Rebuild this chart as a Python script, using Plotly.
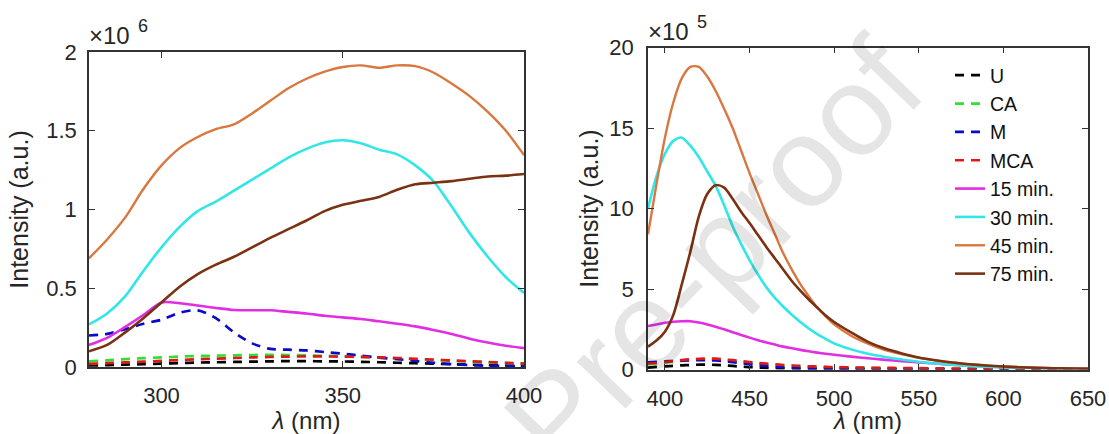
import plotly.graph_objects as go

# ---------------- data (left panel, intensity x1e6) ----------------
wl_left = [280, 285, 290, 295, 300, 305, 310, 315, 320, 325, 330, 335, 340,
           345, 350, 355, 360, 365, 370, 375, 380, 385, 390, 395, 400]
left_U = [0.010, 0.012, 0.015, 0.018, 0.022, 0.025, 0.028, 0.030, 0.032, 0.034, 0.036, 0.037, 0.037,
          0.036, 0.035, 0.033, 0.030, 0.027, 0.024, 0.021, 0.018, 0.015, 0.012, 0.010, 0.008]
left_CA = [0.036, 0.042, 0.050, 0.056, 0.061, 0.066, 0.070, 0.072, 0.074, 0.076, 0.077, 0.076, 0.074,
           0.071, 0.068, 0.064, 0.059, 0.054, 0.049, 0.044, 0.039, 0.034, 0.029, 0.024, 0.020]
left_M = [0.20, 0.21, 0.24, 0.275, 0.30, 0.345, 0.36, 0.31, 0.22, 0.15, 0.115, 0.11, 0.105,
          0.095, 0.085, 0.072, 0.06, 0.05, 0.038, 0.027, 0.018, 0.012, 0.008, 0.006, 0.005]
left_MCA = [0.020, 0.024, 0.029, 0.034, 0.039, 0.044, 0.049, 0.053, 0.057, 0.061, 0.064, 0.066, 0.067,
            0.067, 0.066, 0.064, 0.061, 0.057, 0.052, 0.047, 0.042, 0.037, 0.032, 0.027, 0.022]
left_15 = [0.14, 0.185, 0.255, 0.33, 0.41, 0.405, 0.39, 0.375, 0.362, 0.36, 0.36, 0.35, 0.34,
           0.325, 0.315, 0.305, 0.29, 0.275, 0.258, 0.235, 0.21, 0.18, 0.155, 0.135, 0.12]
left_30 = [0.27, 0.34, 0.45, 0.61, 0.76, 0.89, 0.99, 1.05, 1.12, 1.19, 1.26, 1.33, 1.385,
           1.425, 1.44, 1.42, 1.38, 1.35, 1.28, 1.18, 1.02, 0.85, 0.70, 0.57, 0.47]
left_45 = [0.69, 0.81, 0.95, 1.13, 1.28, 1.39, 1.46, 1.51, 1.54, 1.61, 1.69, 1.77, 1.83,
           1.875, 1.905, 1.915, 1.90, 1.915, 1.91, 1.87, 1.80, 1.72, 1.62, 1.50, 1.345]
left_75 = [0.10, 0.14, 0.22, 0.31, 0.41, 0.51, 0.59, 0.65, 0.70, 0.76, 0.82, 0.875, 0.93,
           0.99, 1.03, 1.055, 1.08, 1.125, 1.16, 1.17, 1.18, 1.195, 1.21, 1.215, 1.225]

# ---------------- data (right panel, intensity x1e5) ----------------
wl_right = [390, 395, 400, 405, 410, 415, 420, 425, 430, 435, 440, 445, 450, 455, 460, 465,
            470, 475, 480, 485, 490, 495, 500, 510, 520, 530, 540, 550, 560, 570, 580, 590,
            600, 610, 620, 630, 640, 650]
right_U = [0.12, 0.16, 0.2, 0.23, 0.26, 0.28, 0.3, 0.3, 0.29, 0.26, 0.22, 0.18, 0.15, 0.12, 0.1, 0.08,
           0.07, 0.06, 0.05, 0.045, 0.04, 0.035, 0.03, 0.025, 0.02, 0.02, 0.015, 0.015, 0.01, 0.01, 0.01, 0.01,
           0.01, 0.01, 0.01, 0.01, 0.01, 0.01]
right_CA = [0.33, 0.38, 0.43, 0.48, 0.53, 0.57, 0.6, 0.61, 0.6, 0.57, 0.52, 0.47, 0.42, 0.37, 0.32, 0.28,
            0.25, 0.22, 0.2, 0.18, 0.16, 0.14, 0.13, 0.11, 0.09, 0.08, 0.07, 0.06, 0.05, 0.045, 0.04, 0.035,
            0.03, 0.03, 0.025, 0.025, 0.02, 0.02]
right_M = [0.45, 0.48, 0.5, 0.53, 0.55, 0.57, 0.58, 0.58, 0.56, 0.52, 0.46, 0.39, 0.33, 0.27, 0.22, 0.17,
           0.14, 0.11, 0.09, 0.075, 0.06, 0.05, 0.045, 0.035, 0.03, 0.025, 0.02, 0.02, 0.015, 0.015, 0.01, 0.01,
           0.01, 0.01, 0.01, 0.01, 0.01, 0.01]
right_MCA = [0.38, 0.42, 0.47, 0.52, 0.58, 0.63, 0.66, 0.68, 0.67, 0.63, 0.58, 0.52, 0.46, 0.41, 0.36, 0.32,
             0.28, 0.25, 0.22, 0.2, 0.18, 0.16, 0.15, 0.13, 0.11, 0.1, 0.09, 0.08, 0.07, 0.06, 0.05, 0.05,
             0.04, 0.04, 0.03, 0.03, 0.03, 0.03]
right_15 = [2.7, 2.8, 2.9, 2.97, 3.0, 3.0, 2.92, 2.8, 2.65, 2.5, 2.32, 2.15, 1.98, 1.82, 1.68, 1.55,
            1.42, 1.32, 1.22, 1.13, 1.05, 0.98, 0.92, 0.8, 0.7, 0.6, 0.52, 0.44, 0.37, 0.3, 0.24, 0.19,
            0.15, 0.12, 0.09, 0.07, 0.05, 0.04]
right_30 = [10.0, 12.0, 13.4, 14.2, 14.4, 13.9, 13.2, 12.3, 11.4, 10.2, 8.9, 7.8, 6.8, 5.9, 5.1, 4.45,
            3.9, 3.4, 2.95, 2.55, 2.2, 1.9, 1.62, 1.25, 0.98, 0.78, 0.62, 0.48, 0.37, 0.29, 0.22, 0.17,
            0.13, 0.1, 0.08, 0.06, 0.05, 0.04]
right_45 = [8.4, 11.5, 14.4, 16.6, 18.1, 18.8, 18.8, 18.2, 17.3, 16.2, 15.0, 13.6, 12.2, 10.9, 9.6, 8.4,
            7.2, 6.2, 5.3, 4.55, 3.85, 3.3, 2.8, 2.1, 1.6, 1.2, 0.95, 0.72, 0.55, 0.42, 0.32, 0.24,
            0.18, 0.13, 0.1, 0.08, 0.06, 0.05]
right_75 = [1.42, 1.8, 2.35, 3.4, 5.3, 7.3, 9.5, 10.9, 11.45, 11.3, 10.6, 9.8, 9.1, 8.35, 7.6, 6.9,
            6.2, 5.5, 4.9, 4.35, 3.85, 3.35, 2.95, 2.3, 1.72, 1.3, 1.0, 0.75, 0.57, 0.43, 0.33, 0.25,
            0.19, 0.14, 0.11, 0.08, 0.06, 0.05]

series_names = ["U", "CA", "M", "MCA", "15 min.", "30 min.", "45 min.", "75 min."]
left_values = [left_U, left_CA, left_M, left_MCA, left_15, left_30, left_45, left_75]
right_values = [right_U, right_CA, right_M, right_MCA, right_15, right_30, right_45, right_75]

left_yticks = [0, 0.5, 1, 1.5, 2]
left_yticktext = ["0", "0.5", "1", "1.5", "2"]
left_xticks = [300, 350, 400]
right_yticks = [0, 5, 10, 15, 20]
right_xticks = [400, 450, 500, 550, 600, 650]

# ---------------- styles ----------------
colors = ["#000000", "#2fe02f", "#0a0ac8", "#e01818",
          "#e22ee2", "#30e6e6", "#d9773f", "#7a3212"]
dashes = ["dash", "dash", "dash", "dash", "solid", "solid", "solid", "solid"]
widths = [2.7, 2.7, 2.7, 2.7, 2.6, 2.6, 2.4, 2.6]

FONT = "Liberation Sans, Arial, Helvetica, sans-serif"
TXT = "#262626"
DASH = "9px,7px"

fig = go.Figure()
for name, vals, c, d, w in zip(series_names, left_values, colors, dashes, widths):
    fig.add_trace(go.Scatter(
        x=wl_left, y=vals, mode="lines", name=name, showlegend=False,
        line=dict(color=c, width=w, dash=DASH if d == "dash" else "solid", shape="spline", smoothing=0.8),
        xaxis="x", yaxis="y"))
for name, vals, c, d, w in zip(series_names, right_values, colors, dashes, widths):
    fig.add_trace(go.Scatter(
        x=wl_right, y=vals, mode="lines", name=name, showlegend=True,
        line=dict(color=c, width=w, dash=DASH if d == "dash" else "solid", shape="spline", smoothing=0.8),
        xaxis="x2", yaxis="y2"))

# figure fills the whole window (body margin removed by post_script below)
W, H = 1109, 434

def px(xp):          # window x -> paper x
    return xp / W

def py(yp):          # window y (from top) -> paper y
    return (H - yp) / H

axis_common = dict(
    showline=True, mirror="ticks", linecolor="#333333", linewidth=1.6,
    ticks="inside", ticklen=6, tickwidth=1.4, tickcolor="#333333",
    showgrid=False, zeroline=False, automargin=False,
    tickfont=dict(family=FONT, size=22, color=TXT),
)

fig.update_layout(
    width=W, height=H,
    margin=dict(l=0, r=0, t=0, b=0, autoexpand=False),
    paper_bgcolor="white", plot_bgcolor="white",
    font=dict(family=FONT, color=TXT),
    xaxis=dict(domain=[px(89), px(524)], range=[280, 400], tickmode="array", tickvals=left_xticks,
               ticklabelstandoff=8,
               title=dict(text="<i>λ</i> (nm)", font=dict(family=FONT, size=24, color=TXT), standoff=5),
               anchor="y", **axis_common),
    yaxis=dict(domain=[py(367), py(52)], range=[0, 2], tickmode="array", tickvals=left_yticks,
               ticktext=left_yticktext, ticklabelstandoff=6,
               title=dict(text="Intensity (a.u.)", font=dict(family=FONT, size=25, color=TXT), standoff=10),
               anchor="x", **axis_common),
    xaxis2=dict(domain=[px(648), px(1088)], range=[390, 650], tickmode="array", tickvals=right_xticks,
                ticklabelstandoff=8,
                title=dict(text="<i>λ</i> (nm)", font=dict(family=FONT, size=24, color=TXT), standoff=5),
                anchor="y2", **axis_common),
    yaxis2=dict(domain=[py(369.5), py(47.5)], range=[0, 20], tickmode="array", tickvals=right_yticks,
                ticklabelstandoff=8,
                title=dict(text="Intensity (a.u.)", font=dict(family=FONT, size=25, color=TXT), standoff=4),
                anchor="x2", **axis_common),
    legend=dict(x=px(950), y=py(56), xanchor="left", yanchor="top",
                bgcolor="rgba(0,0,0,0)", borderwidth=0, itemwidth=30, tracegroupgap=0,
                font=dict(family=FONT, size=19.5, color="#111111"), traceorder="normal"),
)

# MATLAB-style exponent labels
fig.add_annotation(text="×10", xref="paper", yref="paper", x=px(87), y=py(51),
                   xanchor="left", yanchor="bottom", showarrow=False,
                   font=dict(family=FONT, size=24, color=TXT))
fig.add_annotation(text="6", xref="paper", yref="paper", x=px(136), y=py(38),
                   xanchor="left", yanchor="bottom", showarrow=False,
                   font=dict(family=FONT, size=18, color=TXT))
fig.add_annotation(text="×10", xref="paper", yref="paper", x=px(646), y=py(47),
                   xanchor="left", yanchor="bottom", showarrow=False,
                   font=dict(family=FONT, size=24, color=TXT))
fig.add_annotation(text="5", xref="paper", yref="paper", x=px(695), y=py(34),
                   xanchor="left", yanchor="bottom", showarrow=False,
                   font=dict(family=FONT, size=18, color=TXT))
# journal watermark
fig.add_annotation(text="Pre-proof", xref="paper", yref="paper", x=px(713), y=py(253),
                   xanchor="center", yanchor="middle", showarrow=False, textangle=-46,
                   font=dict(family=FONT, size=128, color="rgba(0,0,0,0.1)"))

fig.write_html(
    "out.html",
    config={"displayModeBar": False},
    post_script="document.body.style.margin='0';document.body.style.overflow='hidden';",
)
